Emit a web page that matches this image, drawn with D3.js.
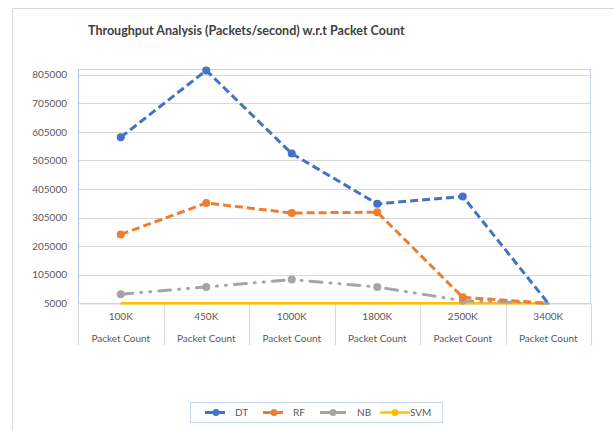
<!DOCTYPE html>
<html><head><meta charset="utf-8">
<script src="https://cdn.jsdelivr.net/npm/d3@7"></script>
<style>
body{margin:0;background:#fff;}
svg{display:block;font-family:Lato,"Open Sans",sans-serif;}
</style></head>
<body><svg id="c" width="614" height="430"></svg>
<script>
const categories = ["100K","450K","1000K","1800K","2500K","3400K"];
const subLabel = "Packet Count";
const seriesNames = ["DT","RF","NB","SVM"];
const dtValues  = [586000, 820000, 529000, 353000, 379000, 5000];
const rfValues  = [246000, 356000, 321000, 324000, 26000, 5000];
const nbValues  = [37000, 62000, 88000, 62000, 14000, 5000];
const svmValues = [5000, 5000, 5000, 5000, 5000, 5000];
const yTicks = [5000,105000,205000,305000,405000,505000,605000,705000,805000];
const yDomain = [5000, 825000];
const title = "Throughput Analysis (Packets/second) w.r.t Packet Count";

const svg = d3.select("#c");
const L = 78, R = 591, T = 69, B = 303.3;

// outer frame
svg.append("path").attr("d","M12.5,430 L12.5,8.5 L614,8.5").attr("fill","none").attr("stroke","#d9d9d9");

svg.append("text").attr("x",88).attr("y",35).attr("font-size",12.5).attr("font-weight","bold")
  .attr("fill","#404040").text(title);

const x = d3.scaleBand().domain(categories).range([L,R]);
const y = d3.scaleLinear().domain(yDomain).range([B,T]);

// gridlines
svg.append("g").selectAll("line").data(yTicks).join("line")
  .attr("x1",L).attr("x2",R).attr("y1",d=>Math.round(y(d))+0.5).attr("y2",d=>Math.round(y(d))+0.5)
  .attr("stroke","#d9d9d9");

// y axis labels
const ya = svg.append("g").attr("transform",`translate(${L},0)`)
  .call(d3.axisLeft(y).tickValues(yTicks).tickSize(0).tickPadding(11).tickFormat(d3.format("d")));
ya.select(".domain").remove();
ya.selectAll("text").attr("font-size",10).attr("fill","#595959").attr("font-family","Lato,'Open Sans',sans-serif");

// plot area border (dotted, selected look)
svg.append("rect").attr("x",L+0.5).attr("y",T+0.5).attr("width",R-L-1).attr("height",B-T)
  .attr("fill","none").attr("stroke","#8eaadb").attr("stroke-dasharray","1,1");
svg.append("line").attr("x1",L+0.5).attr("x2",L+0.5).attr("y1",T).attr("y2",B).attr("stroke","#b4c7e7");

// category separators
const seps = categories.map(c=>x(c)).concat([R]);
svg.append("g").selectAll("line").data(seps).join("line")
  .attr("x1",d=>Math.round(d)+0.5).attr("x2",d=>Math.round(d)+0.5).attr("y1",B).attr("y2",345)
  .attr("stroke","#d9d9d9");
svg.append("line").attr("x1",L).attr("x2",R).attr("y1",B+0.5).attr("y2",B+0.5).attr("stroke","#d9d9d9");

// x labels
const xl = svg.append("g");
xl.selectAll("text.a").data(categories).join("text").attr("class","a")
  .attr("x",d=>x(d)+x.bandwidth()/2).attr("y",320).attr("text-anchor","middle")
  .attr("font-size",10).attr("fill","#595959").text(d=>d);
xl.selectAll("text.b").data(categories).join("text").attr("class","b")
  .attr("x",d=>x(d)+x.bandwidth()/2).attr("y",342).attr("text-anchor","middle")
  .attr("font-size",10).attr("fill","#595959").text(subLabel);

const series = [
  {name:"DT", values:dtValues, color:"#4472c4", dash:"8,4", w:3, marker:true, cap:"butt"},
  {name:"RF", values:rfValues, color:"#ed7d31", dash:"8,4", w:3, marker:true, cap:"butt"},
  {name:"NB", values:nbValues, color:"#a5a5a5", dash:"12,8,1,8,1,8", w:3, marker:true, cap:"round"},
  {name:"SVM", values:svmValues, color:"#ffc000", dash:null, w:2.5, marker:false, cap:"butt"}
];
const cx = c => x(c)+x.bandwidth()/2;
const line = d3.line().x((d,i)=>cx(categories[i])).y(d=>y(d));

series.slice().reverse().forEach(s=>{
  svg.append("path").datum(s.values).attr("d",line).attr("fill","none")
    .attr("stroke",s.color).attr("stroke-width",s.w).attr("stroke-dasharray",s.dash)
    .attr("stroke-linecap",s.cap).attr("stroke-linejoin","round");
  if(s.marker){
    svg.append("g").selectAll("circle").data(s.values.slice(0,5)).join("circle")
      .attr("cx",(d,i)=>cx(categories[i])).attr("cy",d=>y(d)).attr("r",4).attr("fill",s.color);
  }
});

// legend
svg.append("rect").attr("x",190.5).attr("y",402.5).attr("width",252).attr("height",20)
  .attr("fill","none").attr("stroke","#8eaadb").attr("stroke-dasharray","1,1");
const legX = [203, 261, 320, 380];
const lg = svg.append("g");
series.forEach((s,i)=>{
  const g = lg.append("g").attr("transform",`translate(${legX[i]},412.5)`);
  g.append("line").attr("x1",0).attr("x2",s.name==="SVM"?30:26).attr("y1",0).attr("y2",0)
    .attr("stroke",s.color).attr("stroke-width",s.w).attr("stroke-dasharray",s.name==="NB"?null:s.dash)
    .attr("stroke-dashoffset",s.dash?-2:0);
  g.append("circle").attr("cx",s.name==="SVM"?15:13).attr("cy",0).attr("r",3.5).attr("fill",s.color);
  g.append("text").attr("x",s.name==="SVM"?30:(s.name==="NB"?37:32)).attr("y",3.5)
    .attr("font-size",10).attr("fill","#595959").text(s.name);
});
</script></body></html>
